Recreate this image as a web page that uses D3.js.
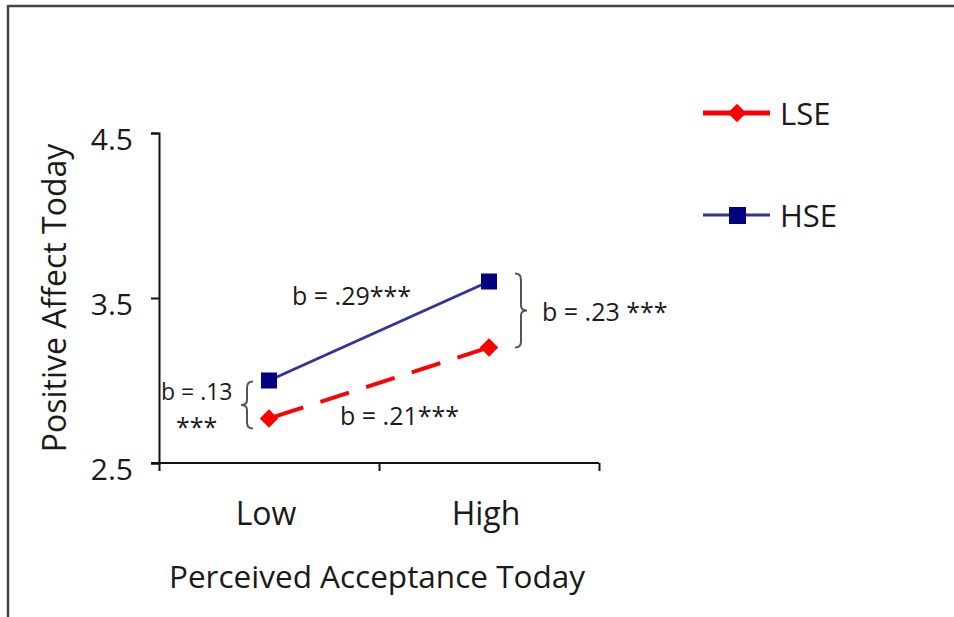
<!DOCTYPE html>
<html>
<head>
<meta charset="utf-8">
<script src="https://cdn.jsdelivr.net/npm/d3@7"></script>
<style>
  body { margin: 0; background: #fff; }
  text { font-family: "Open Sans", sans-serif; fill: #1a1a1a; }
</style>
</head>
<body>
<svg width="954" height="617"></svg>
<script>
// data
const categories = ['Low', 'High'];
const seriesNames = ['LSE', 'HSE'];
const lseValues = [2.77, 3.20];
const hseValues = [3.00, 3.60];
const yTicks = [2.5, 3.5, 4.5];
const yTickLabels = ['2.5', '3.5', '4.5'];
const slopeLabels = ['b = .29***', 'b = .21***', 'b = .13', '***', 'b = .23 ***'];

const svg = d3.select('svg');

// frame (top + left only, like the cropped figure)
svg.append('line').attr('x1', 8).attr('x2', 954).attr('y1', 6).attr('y2', 6)
  .attr('stroke', '#444').attr('stroke-width', 2.5);
svg.append('line').attr('x1', 8).attr('x2', 8).attr('y1', 5).attr('y2', 617)
  .attr('stroke', '#444').attr('stroke-width', 2.5);

const plot = {left: 159, right: 599, top: 133, bottom: 463};

const y = d3.scaleLinear().domain([2.5, 4.5]).range([plot.bottom, plot.top]);
const xEdge = d3.scaleLinear().domain([0, categories.length]).range([plot.left, plot.right]);
const x = d3.scaleBand().domain(categories).range([plot.left, plot.right]);
const xc = (c) => x(c) + x.bandwidth() / 2;

// y axis
const yAxis = svg.append('g')
  .attr('transform', `translate(${plot.left},0)`)
  .call(d3.axisLeft(y).tickValues(yTicks).tickSize(8).tickPadding(18)
    .tickFormat((d, i) => yTickLabels[i]));
yAxis.select('.domain').attr('stroke', '#111').attr('stroke-width', 2);
yAxis.selectAll('.tick line').attr('stroke', '#111').attr('stroke-width', 2);
yAxis.selectAll('.tick text')
  .attr('dy', '0.55em')
  .style('font-family', '"Open Sans", sans-serif')
  .style('font-size', '30px').attr('fill', '#1a1a1a');

// x axis: ticks on band edges, labels in band centres
const xAxis = svg.append('g')
  .attr('transform', `translate(0,${plot.bottom})`)
  .call(d3.axisBottom(xEdge).tickValues(d3.range(categories.length + 1)).tickSize(8).tickFormat(''));
xAxis.select('.domain').attr('d', `M${plot.left - 8},0H${plot.right}`)
  .attr('stroke', '#111').attr('stroke-width', 2);
xAxis.selectAll('.tick line').attr('stroke', '#111').attr('stroke-width', 2);

svg.selectAll('.x-label')
  .data(categories)
  .enter()
  .append('text')
    .attr('class', 'x-label')
    .attr('x', d => xc(d) - 3)
    .attr('y', 525)
    .attr('text-anchor', 'middle')
    .style('font-size', '32px')
    .text(d => d);

svg.append('text')
  .attr('x', 377).attr('y', 588)
  .attr('text-anchor', 'middle')
  .style('font-size', '31.5px')
  .text('Perceived Acceptance Today');

svg.append('text')
  .attr('transform', 'translate(66,298) rotate(-90)')
  .attr('text-anchor', 'middle')
  .style('font-size', '32px')
  .text('Positive Affect Today');

// series
const lineGen = d3.line().x((d, i) => xc(categories[i])).y(d => y(d));

svg.append('path')
  .datum(hseValues)
  .attr('d', lineGen)
  .attr('fill', 'none')
  .attr('stroke', '#333399')
  .attr('stroke-width', 3);

svg.append('path')
  .datum(lseValues)
  .attr('d', lineGen)
  .attr('fill', 'none')
  .attr('stroke', '#ff0000')
  .attr('stroke-width', 4)
  .attr('stroke-dasharray', '30,18')
  .attr('stroke-dashoffset', -6);

svg.selectAll('.hse-pt')
  .data(hseValues)
  .enter()
  .append('rect')
    .attr('class', 'hse-pt')
    .attr('x', (d, i) => xc(categories[i]) - 8)
    .attr('y', d => y(d) - 8)
    .attr('width', 16).attr('height', 16)
    .attr('fill', '#000080');

svg.selectAll('.lse-pt')
  .data(lseValues)
  .enter()
  .append('path')
    .attr('class', 'lse-pt')
    .attr('transform', (d, i) => `translate(${xc(categories[i])},${y(d)}) rotate(45)`)
    .attr('d', d3.symbol().type(d3.symbolSquare).size(170))
    .attr('fill', '#ff0000');

// slope annotations
const annStyle = (sel) => sel.style('font-size', '25px').attr('fill', '#222');
annStyle(svg.append('text').attr('x', 292).attr('y', 305).text(slopeLabels[0]));
annStyle(svg.append('text').attr('x', 340).attr('y', 425).text(slopeLabels[1]));
annStyle(svg.append('text').attr('x', 542).attr('y', 321).text(slopeLabels[4]));

// two-line label left of the Low brace
svg.append('text').attr('x', 161).attr('y', 400)
  .style('font-size', '23px').attr('fill', '#222').text(slopeLabels[2]);
svg.append('text').attr('x', 176).attr('y', 436)
  .style('font-size', '25px').attr('fill', '#222').text(slopeLabels[3]);

// braces between the two series
function brace(xPos, y0, y1, dir) {
  const w = 6 * dir, m = (y0 + y1) / 2;
  return `M${xPos + w},${y0} Q${xPos},${y0} ${xPos},${y0 + 6} L${xPos},${m - 5} Q${xPos},${m} ${xPos - w},${m}` +
         ` Q${xPos},${m} ${xPos},${m + 5} L${xPos},${y1 - 6} Q${xPos},${y1} ${xPos + w},${y1}`;
}
svg.append('path')
  .attr('d', brace(247, y(hseValues[0]) + 1, y(lseValues[0]) + 10, 1))
  .attr('fill', 'none').attr('stroke', '#555').attr('stroke-width', 2);
svg.append('path')
  .attr('d', brace(521, y(hseValues[1]) - 8, y(lseValues[1]), -1))
  .attr('fill', 'none').attr('stroke', '#555').attr('stroke-width', 2);

// legend
const legend = svg.append('g').attr('transform', 'translate(703,0)');
const legendRows = [
  {name: seriesNames[0], y: 113, color: '#ff0000', width: 5, dash: '33,5', marker: 'diamond'},
  {name: seriesNames[1], y: 215, color: '#333399', width: 3, dash: null, marker: 'square'}
];
legendRows.forEach(r => {
  const g = legend.append('g').attr('transform', `translate(0,${r.y})`);
  g.append('line').attr('x1', 0).attr('x2', 67)
    .attr('stroke', r.color).attr('stroke-width', r.width)
    .attr('stroke-dasharray', r.dash);
  if (r.marker === 'diamond') {
    g.append('path').attr('transform', 'translate(34,0) rotate(45)')
      .attr('d', d3.symbol().type(d3.symbolSquare).size(170)).attr('fill', '#ff0000');
  } else {
    g.append('rect').attr('x', 26).attr('y', -8).attr('width', 17).attr('height', 17).attr('fill', '#000080');
  }
  g.append('text').attr('x', 77).attr('y', 12).style('font-size', '31px').text(r.name);
});
</script>
</body>
</html>
